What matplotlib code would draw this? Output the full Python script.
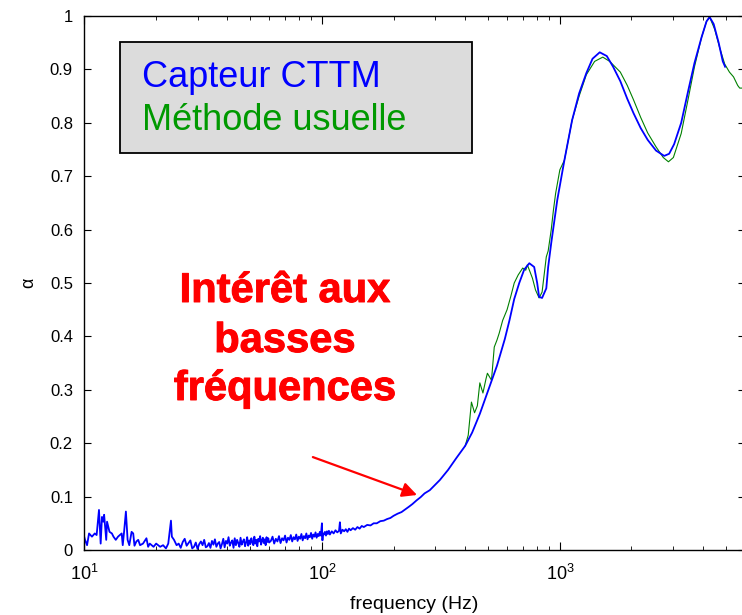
import numpy as np
import matplotlib
matplotlib.use("Agg")
import matplotlib.pyplot as plt
import matplotlib.patheffects as pe
from matplotlib.patches import Rectangle
from matplotlib.ticker import FuncFormatter, LogLocator, FixedLocator

plt.rcParams['font.family'] = ['Liberation Sans', 'DejaVu Sans']
plt.rcParams['mathtext.fontset'] = 'custom'
plt.rcParams['mathtext.rm'] = 'Liberation Sans'
plt.rcParams['mathtext.it'] = 'Liberation Sans'

# Capteur CTTM (blue)
freq_cttm = [10.0, 10.1, 10.3, 10.5, 10.8, 11.1, 11.3, 11.56, 11.75, 11.9, 12.05, 12.15, 12.4,
             12.5, 12.8, 13.1, 13.3, 13.6, 13.9, 14.4, 14.55, 14.76, 15.0, 15.25, 15.5, 15.85,
             16.1, 16.3, 16.6, 16.9, 17.2, 17.7, 18.3, 18.6, 18.9, 19.6, 20.1, 20.9, 21.5, 22.1,
             22.6, 23.2, 23.4, 23.9, 24.5,
             25.0, 25.5, 26.0, 26.5, 27.0, 27.5, 28.0, 28.5, 29.0, 29.5,
             30.0, 30.5, 31.0, 31.5, 32.0, 32.5, 33.0, 33.5, 34.0, 34.5,
             35.0, 35.5, 36.0, 36.5, 37.0, 37.5, 38.0, 38.5, 39.0, 39.5,
             40.0, 40.5, 41.0, 41.5, 42.0, 42.5, 43.0, 43.5, 44.0, 44.5,
             45.0, 45.5, 46.0, 46.5, 47.0, 47.5, 48.0, 48.5, 49.0, 49.5,
             50.0, 50.5, 51.0, 51.5, 52.0, 52.5, 53.0, 53.5, 54.0, 54.5,
             55.0, 55.5, 56.0, 56.5, 57.0, 57.5, 58.0, 58.5, 59.0, 59.5, 60.0,
             61, 62, 63, 64, 65, 66, 67, 68, 69, 70,
             71, 72, 73, 74, 75, 76, 77, 78, 79, 80,
             81, 82, 83, 84, 85, 86, 87, 88, 89, 90,
             91, 92, 93, 94, 95, 96, 97, 98, 99, 100,
             100.5, 101, 102, 103, 104, 105, 106, 107, 108, 110, 112, 114, 116, 118, 119, 120,
             122, 124, 126, 128, 130, 132, 135, 138, 141, 144, 147, 150, 155, 160, 165, 170,
             176, 182, 188, 194, 200, 208, 216, 224, 232, 240, 250, 260, 270, 284, 313, 339,
             367, 400, 428, 461, 496, 544, 587, 614, 643, 675, 708, 744,
             780, 803, 818, 842, 877, 893, 920, 975, 1045, 1126, 1205, 1292, 1372, 1471, 1575,
             1674, 1795, 1920, 2040, 2187, 2340, 2536, 2745, 2880, 3022, 3236, 3463, 3680,
             3940, 4135, 4260, 4430, 4650, 4840, 4950]
alpha_cttm = [0.026, 0.019, 0.009, 0.031, 0.025, 0.031, 0.028, 0.075, 0.012, 0.062, 0.053, 0.066,
              0.019, 0.053, 0.034, 0.031, 0.025, 0.019, 0.025, 0.031, 0.009, 0.037, 0.072, 0.019,
              0.009, 0.034, 0.031, 0.008, 0.016, 0.019, 0.009, 0.012, 0.022, 0.006, 0.012, 0.006,
              0.012, 0.006, 0.009, 0.003, 0.012, 0.055, 0.025, 0.019, 0.009,
              0.012, 0.004, 0.015, 0.021, 0.008, 0.013, 0.018, 0.003, 0.006, 0.014,
              0.002, 0.011, 0.016, 0.009, 0.019, 0.005, 0.007, 0.013, 0.004, 0.017,
              0.010, 0.020, 0.006, 0.012, 0.015, 0.003, 0.011, 0.021, 0.005, 0.017,
              0.012, 0.024, 0.008, 0.014, 0.018, 0.004, 0.022, 0.009, 0.019, 0.013,
              0.006, 0.023, 0.010, 0.016, 0.020, 0.007, 0.014, 0.024, 0.008, 0.018,
              0.011, 0.022, 0.015, 0.009, 0.025, 0.012, 0.019, 0.007, 0.021, 0.016,
              0.026, 0.010, 0.018, 0.023, 0.013, 0.020, 0.009, 0.024, 0.015, 0.022, 0.014,
              0.017, 0.025, 0.012, 0.021, 0.016, 0.026, 0.013, 0.022, 0.018, 0.027,
              0.014, 0.023, 0.019, 0.028, 0.016, 0.024, 0.020, 0.029, 0.017, 0.025,
              0.021, 0.030, 0.018, 0.026, 0.022, 0.031, 0.020, 0.027, 0.024, 0.032,
              0.021, 0.029, 0.025, 0.033, 0.023, 0.030, 0.026, 0.034, 0.027, 0.050,
              0.018, 0.031, 0.029, 0.034, 0.027, 0.035, 0.030, 0.036, 0.029, 0.035, 0.031, 0.037,
              0.033, 0.036, 0.052, 0.031, 0.038, 0.035, 0.039, 0.034, 0.040, 0.037, 0.041, 0.038,
              0.043, 0.040, 0.045, 0.043, 0.047, 0.046, 0.050, 0.050, 0.054, 0.055, 0.058, 0.060,
              0.064, 0.068, 0.071, 0.076, 0.081, 0.086, 0.093, 0.099, 0.106, 0.112, 0.131, 0.150,
              0.172, 0.195, 0.220, 0.255, 0.295, 0.345, 0.395, 0.430, 0.470, 0.500, 0.525, 0.537,
              0.530, 0.500, 0.474, 0.472, 0.490, 0.530, 0.575, 0.655, 0.730, 0.805, 0.855, 0.893,
              0.920, 0.932, 0.925, 0.905, 0.878, 0.845, 0.818, 0.790, 0.768, 0.748, 0.738, 0.742,
              0.760, 0.800, 0.860, 0.912, 0.960, 0.990, 0.998, 0.985, 0.950, 0.915, 0.905]

# Methode usuelle (green)
freq_usuel = [400, 412, 425, 438, 450, 461, 475, 489, 496, 516, 530, 544, 556, 575, 600, 622,
              643, 668, 698, 719, 730, 752, 767, 790, 818, 842, 877, 893, 920, 940, 960, 1000,
              1045, 1126, 1205, 1292, 1400, 1515, 1620, 1795, 1920, 2040, 2187, 2340, 2536,
              2720, 2860, 3000, 3236, 3463, 3680, 3940, 4135, 4260, 4475, 4700, 4930, 5160,
              5370, 5590, 5700, 6000]
alpha_usuel = [0.195, 0.215, 0.277, 0.257, 0.270, 0.313, 0.294, 0.320, 0.331, 0.318, 0.380,
               0.393, 0.406, 0.430, 0.450, 0.475, 0.500, 0.515, 0.528, 0.524, 0.534, 0.519,
               0.509, 0.487, 0.472, 0.483, 0.549, 0.560, 0.600, 0.637, 0.668, 0.712,
               0.730, 0.805, 0.850, 0.890, 0.915, 0.923, 0.915, 0.895, 0.870, 0.843, 0.810,
               0.781, 0.755, 0.735, 0.727, 0.735, 0.780, 0.845, 0.905, 0.960, 0.990, 0.998,
               0.975, 0.940, 0.910, 0.895, 0.886, 0.870, 0.865, 0.865]

W, H = 742, 615
fig = plt.figure(figsize=(W / 100, H / 100), dpi=100)
ax = fig.add_axes([84 / W, 65 / H, 661 / W, 534 / H])

ax.plot(freq_usuel, alpha_usuel, color='#008000', lw=0.8)
ax.plot(freq_cttm, alpha_cttm, color='#0000ff', lw=1.3)

ax.set_xscale('log')
ax.set_xlim(10, 6000)
ax.set_ylim(0, 1)
ax.set_yticks(np.arange(0, 1.01, 0.1))
ax.yaxis.set_major_formatter(FuncFormatter(lambda v, p: '%g' % round(v, 1)))
ax.xaxis.set_major_locator(FixedLocator([10, 100, 1000]))
ax.xaxis.set_minor_locator(LogLocator(base=10, subs=np.arange(2, 10), numticks=20))
ax.xaxis.set_major_formatter(FuncFormatter(lambda v, p: r'$10^{%d}$' % round(np.log10(v))))
ax.xaxis.set_minor_formatter(FuncFormatter(lambda v, p: ''))

ax.tick_params(which='both', direction='in', top=True, right=True, colors='black')
ax.tick_params(axis='y', which='major', length=5, labelsize=12, pad=8)
ax.tick_params(axis='x', which='major', length=5.5, labelsize=13, pad=10)
ax.tick_params(axis='x', which='minor', length=3)
for s in ax.spines.values():
    s.set_linewidth(1.0)

ax.set_xlabel('frequency (Hz)', fontsize=14, labelpad=9)
ax.set_ylabel('α', fontsize=13, labelpad=9)

# legend-like box
fig.patches.append(Rectangle((120 / W, 1 - 153 / H), 352 / W, 111 / H, transform=fig.transFigure,
                             facecolor='#dcdcdc', edgecolor='black', lw=1.3, zorder=5))
fig.text(142 / W, 1 - 87 / H, 'Capteur CTTM', color='#0000ff', fontsize=26, va='baseline', zorder=6)
fig.text(142 / W, 1 - 130 / H, 'Méthode usuelle', color='#009900', fontsize=26, va='baseline', zorder=6)

# annotation
for txt, yb in [('Intérêt aux', 302), ('basses', 352), ('fréquences', 400)]:
    fig.text(285 / W, 1 - yb / H, txt, color='red', fontsize=30, fontweight='bold',
             ha='center', va='baseline',
             path_effects=[pe.withStroke(linewidth=0.7, foreground='red')])
ax.annotate('', xy=(251, 0.103), xytext=(91.6, 0.174),
            arrowprops=dict(arrowstyle='-|>', color='red', lw=1.6, mutation_scale=22,
                            shrinkA=0, shrinkB=0))

fig.savefig('out.png', dpi=100)
